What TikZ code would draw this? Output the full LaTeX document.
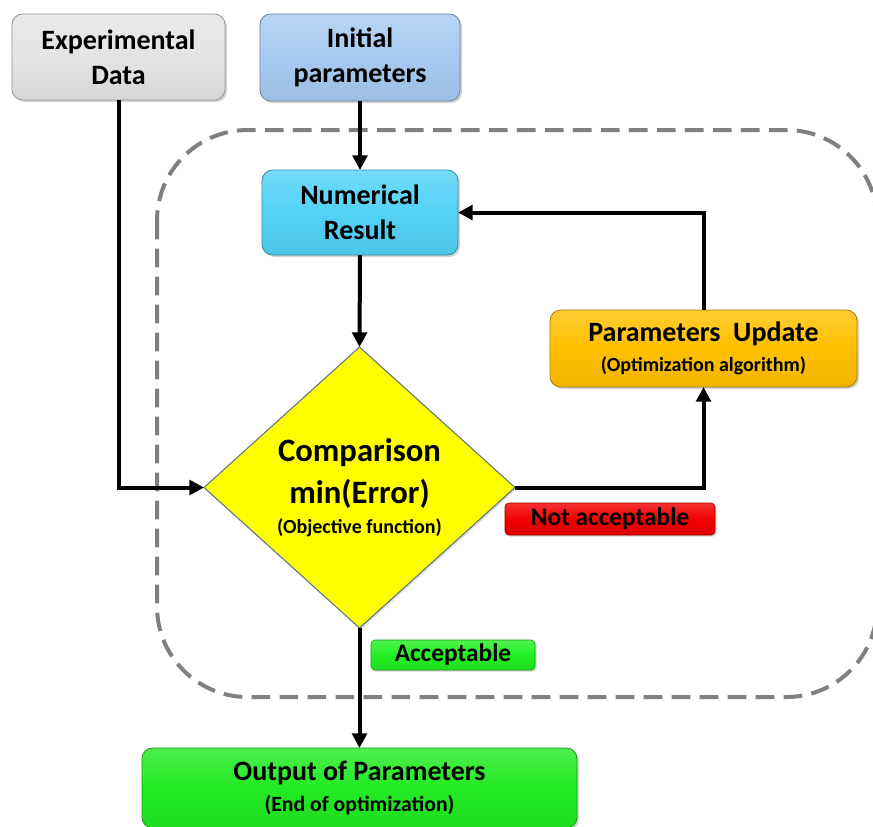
\documentclass[tikz,border=0pt]{standalone}
\usepackage{fontspec}
\setmainfont{Carlito}
\usetikzlibrary{arrows.meta,shapes.geometric,shadows}

\definecolor{expgray}{HTML}{E4E4E4}
\definecolor{initblue}{HTML}{A6CAF0}
\definecolor{numcyan}{HTML}{52D2F7}
\definecolor{updgold}{HTML}{FFC000}
\definecolor{notred}{HTML}{F20000}
\definecolor{accgreen}{HTML}{22F022}
\definecolor{outgreen}{HTML}{22EA22}
\definecolor{cmpyellow}{HTML}{FFFF00}
\definecolor{cmpedge}{HTML}{5E7487}
\definecolor{loopgray}{HTML}{808080}

\begin{document}
\begin{tikzpicture}[x=0.75pt,y=-0.75pt,
  mainfont/.style={font=\bfseries\fontsize{21}{26.5}\selectfont},
  box/.style={rounded corners=8pt, draw=#1!65!black, line width=0.6pt,
    top color=#1!80!white, bottom color=#1!94!black, middle color=#1,
    drop shadow={opacity=0.35, shadow xshift=1.5pt, shadow yshift=-1.5pt},
    align=center, inner sep=0pt, outer sep=0pt, mainfont},
  tag/.style={rounded corners=3pt, draw=#1!65!black, line width=0.5pt,
    top color=#1!80!white, bottom color=#1!92!black, middle color=#1,
    drop shadow={opacity=0.35, shadow xshift=1.2pt, shadow yshift=-1.2pt},
    inner sep=0pt, outer sep=0pt, font=\bfseries\fontsize{19}{22}\selectfont},
  arr/.style={line width=3pt, -{Triangle[length=11pt,width=11pt]}},
  loop/.style={draw=loopgray, line width=3pt, dash pattern=on 14pt off 7pt,
    rounded corners=68pt}]

\useasboundingbox (0,0) rectangle (873,826);

% dashed boundary of the optimisation loop
\draw[loop] (157,130) rectangle (877,697);

% blocks
\node[box=expgray, minimum width=159.75pt, minimum height=64.5pt]
  (exp) at (118.5,57) {Experimental\\Data};
\node[box=initblue, minimum width=150pt, minimum height=65.25pt]
  (init) at (360,57.5) {Initial\\parameters};
\node[box=numcyan, minimum width=147pt, minimum height=63.75pt]
  (num) at (360,212.5) {Numerical\\Result};
\node[diamond, draw=cmpedge, line width=0.8pt, fill=cmpyellow,
  drop shadow={opacity=0.25, shadow xshift=1.2pt, shadow yshift=-1.2pt},
  minimum width=233.25pt, minimum height=210.75pt, inner sep=0pt, outer sep=0pt,
  align=center, font=\bfseries\fontsize{24.5}{32}\selectfont]
  (cmp) at (359.5,487.5)
  {Comparison\\min(Error)\\[-10pt]{\fontsize{15}{18}\selectfont (Objective function)}};
\node[box=updgold, minimum width=230.25pt, minimum height=57.75pt]
  (upd) at (703.5,348.5)
  {Parameters\ \ Update\\[-4pt]{\fontsize{15}{18}\selectfont (Optimization algorithm)}};
\node[box=outgreen, minimum width=326.25pt, minimum height=60pt]
  (out) at (359.5,788)
  {Output of Parameters\\[-3pt]{\fontsize{16.3}{19}\selectfont (End of optimization)}};

% decision labels
\node[tag=notred, minimum width=157.5pt, minimum height=24pt]
  (na) at (610,519) {Not acceptable};
\node[tag=accgreen, minimum width=123pt, minimum height=22.5pt]
  (acc) at (453,655) {Acceptable};

% connectors
\draw[arr] (exp.south) |- (cmp.west);
\draw[arr] (init.south) -- (num.north);
\draw[arr] (num.south) -- (cmp.north);
\draw[arr] (cmp.east) -| (upd.south);
\draw[arr] (upd.north) |- (num.east);
\draw[arr] (cmp.south) -- (out.north);

\end{tikzpicture}
\end{document}
